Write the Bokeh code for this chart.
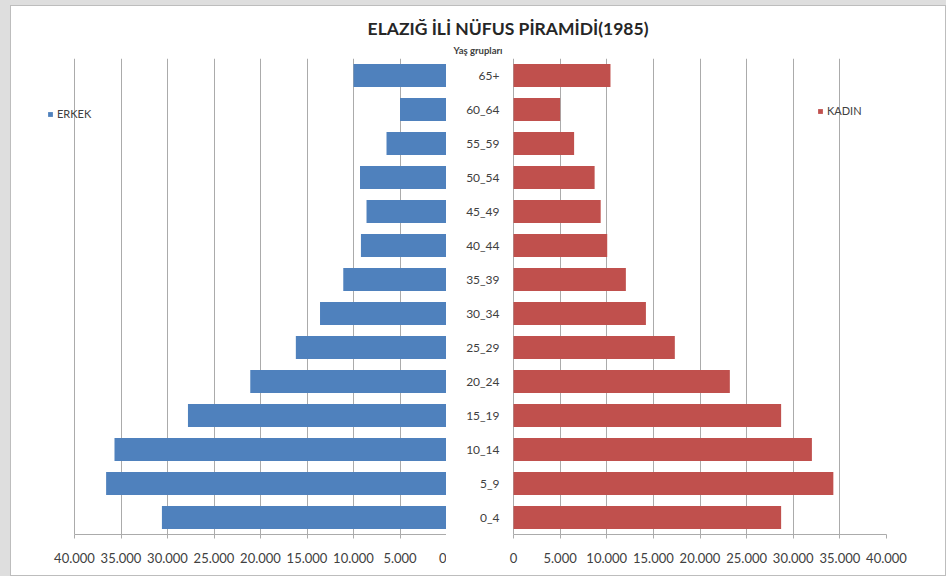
from bokeh.plotting import figure
from bokeh.layouts import column, row
from bokeh.models import (Range1d, FactorRange, ColumnDataSource, FixedTicker,
                          CustomJSTickFormatter, Legend, LegendItem, Label)
from bokeh.core.properties import value
from bokeh.embed import file_html
from bokeh.resources import INLINE

# ---- data ----
ages = ["0_4", "5_9", "10_14", "15_19", "20_24", "25_29", "30_34", "35_39",
        "40_44", "45_49", "50_54", "55_59", "60_64", "65+"]
erkek = [30600, 36600, 35700, 27800, 21100, 16200, 13600, 11100,
         9200, 8600, 9300, 6450, 5000, 10000]
kadin = [28700, 34300, 32000, 28700, 23200, 17300, 14200, 12050,
         10050, 9350, 8700, 6500, 5000, 10400]
x_ticks = [0, 5000, 10000, 15000, 20000, 25000, 30000, 35000, 40000]
title_text = "ELAZIĞ İLİ NÜFUS PİRAMİDİ(1985)"
axis_title = "Yaş grupları"
series_names = ["ERKEK", "KADIN"]

FONT = "Lato"
BLUE = "#4f81bd"
RED = "#c0504d"
GRID = "#ababab"
TXT = "#404040"

# ---- layout (pixels) ----
INNER_W = 934
TITLE_H = 52
ROW_H = 517
BOTTOM = 41
L_W, L_BORDER, L_FRAME = 435, 33, 402      # left panel: 40000 at 372 px from zero
R_W, R_FRAME, R_BORDER = 499, 440, 59       # right panel: zero 67 px into frame
L_SCALE = 372.0                             # px for 40000 on the left
R_SCALE = 373.0                             # px for 40000 on the right
R_GAP = 67.0

src = ColumnDataSource(dict(age=ages, erkek=erkek, kadin=kadin))

fmt = CustomJSTickFormatter(code=r"""
return Math.round(tick).toString().replace(/\B(?=(\d{3})+(?!\d))/g, ".");
""")


def style_common(p):
    p.outline_line_color = None
    p.ygrid.visible = False
    p.xgrid.ticker = FixedTicker(ticks=x_ticks)
    p.xgrid.grid_line_color = GRID
    p.xaxis.ticker = FixedTicker(ticks=x_ticks)
    p.xaxis.bounds = (x_ticks[0], x_ticks[-1])
    p.xaxis.formatter = fmt
    p.xaxis.axis_line_color = GRID
    p.xaxis.major_tick_line_color = GRID
    p.xaxis.major_tick_in = 0
    p.xaxis.major_tick_out = 4
    p.xaxis.minor_tick_line_color = None
    p.xaxis.major_label_text_font = FONT
    p.xaxis.major_label_text_font_size = "13px"
    p.xaxis.major_label_text_color = TXT
    p.xaxis.major_label_standoff = 14
    p.background_fill_color = "white"
    p.border_fill_color = "white"


def make_legend(r, label, loc):
    return Legend(items=[LegendItem(label=label, renderers=[r])], location=loc,
                  glyph_width=6, glyph_height=6, label_standoff=4,
                  label_text_font=FONT, label_text_font_size="11px",
                  label_text_color=TXT, label_height=10, padding=0, margin=0,
                  spacing=0, border_line_color=None, background_fill_alpha=0)


# ---- title strip ----
tfig = figure(width=INNER_W, height=TITLE_H, output_backend="svg", toolbar_location=None,
              x_range=Range1d(0, 1), y_range=Range1d(0, 1),
              x_axis_location=None, y_axis_location=None,
              min_border_top=0, min_border_bottom=0, min_border_left=0, min_border_right=0)
tfig.grid.visible = False
tfig.outline_line_color = None
tfig.border_fill_color = "white"
tfig.add_layout(Label(x=0.5316, y=0.577, text=title_text, text_align="center",
                      text_baseline="middle", text_font=FONT, text_font_style="bold",
                      text_font_size="17.5px", text_color="#262626"))
tfig.add_layout(Label(x=0.4995, y=0.15, text=axis_title, text_align="center",
                      text_baseline="middle", text_font=FONT, text_font_style="bold",
                      text_font_size="9.5px", text_color=TXT))

# ---- left (ERKEK) ----
yr = FactorRange(factors=ages)
left = figure(width=L_W, height=ROW_H, y_range=yr,
              x_range=Range1d(x_ticks[-1] * L_FRAME / L_SCALE, 0),
              output_backend="svg", toolbar_location=None, y_axis_location=None,
              min_border_left=L_BORDER, min_border_right=0, min_border_top=0,
              min_border_bottom=BOTTOM)
rl = left.hbar(y="age", left=0, right="erkek", height=0.68, source=src,
               fill_color=BLUE, line_color=None)
style_common(left)
left.add_layout(make_legend(rl, series_names[0], (3, 414)))

# ---- right (KADIN) ----
right = figure(width=R_W, height=ROW_H, y_range=yr,
               x_range=Range1d(-x_ticks[-1] * R_GAP / R_SCALE,
                               x_ticks[-1] * (R_FRAME - R_GAP) / R_SCALE),
               output_backend="svg", toolbar_location=None, y_axis_location=None,
               min_border_left=0, min_border_right=R_BORDER, min_border_top=0,
               min_border_bottom=BOTTOM)
rr = right.hbar(y="age", left=0, right="kadin", height=0.68, source=src,
                fill_color=RED, line_color=None)
right.text(x=0, y="age", text="age", source=src, x_offset=-14,
           text_align="right", text_baseline="middle",
           text_font=value(FONT), text_font_size=value("12px"), text_color=TXT)
style_common(right)
right.add_layout(make_legend(rr, series_names[1], (371, 417)))

inner = column(tfig, row(left, right), margin=(5, 0, 0, 10),
               styles={"border": "1px solid #bdbdbd", "background-color": "white"})
layout = column(inner, styles={"background-color": "#dedede"})

open("out.html", "w").write(file_html(layout, INLINE))
